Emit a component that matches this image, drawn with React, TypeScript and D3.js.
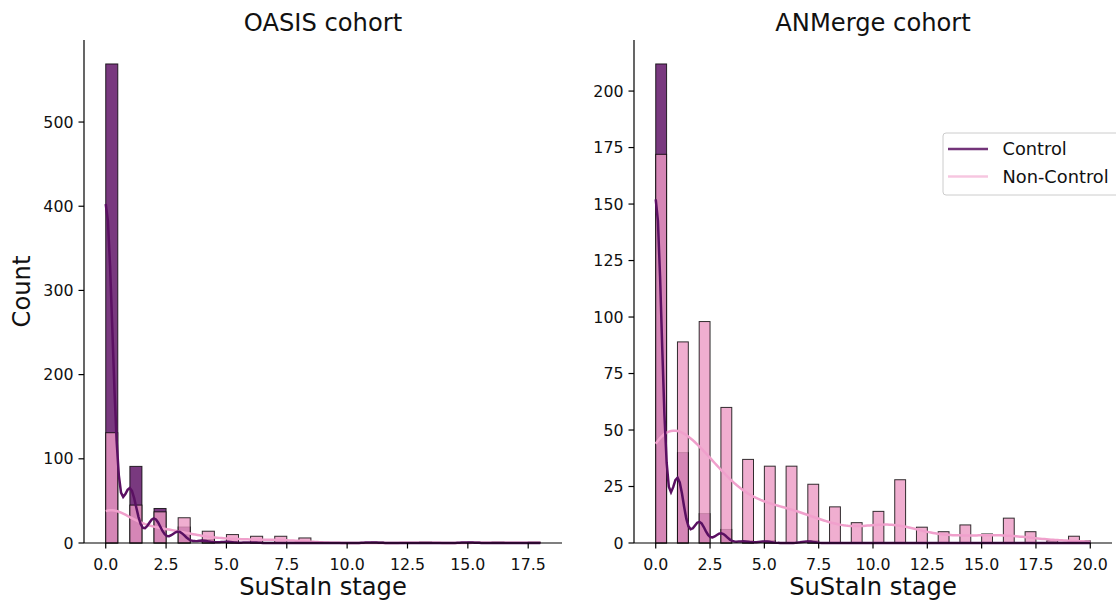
import React from 'react';
import * as d3 from 'd3';

// ---- Data (counts per SuStaIn stage, index = stage) ----
const oasisStages = d3.range(0, 19);
const oasisControl = [569, 91, 41, 19, 4, 2, 1, 0, 0, 0, 0, 1, 0, 0, 0, 1, 0, 0, 0];
const oasisNonControl = [131, 45, 37, 30, 14, 10, 8, 8, 6, 0, 0, 0, 0, 1, 0, 0, 1, 0, 1];

const anmergeStages = d3.range(0, 21);
const anmergeControl = [212, 40, 13, 6, 1, 1, 0, 1, 0, 0, 0, 0, 0, 0, 0, 0, 0, 0, 0, 0, 0];
const anmergeNonControl = [172, 89, 98, 60, 37, 34, 34, 26, 16, 9, 14, 28, 7, 5, 8, 4, 11, 5, 1, 3, 1];

const oasisYTicks = [0, 100, 200, 300, 400, 500];
const anmergeYTicks = [0, 25, 50, 75, 100, 125, 150, 175, 200];
const oasisXTicks = [0, 2.5, 5, 7.5, 10, 12.5, 15, 17.5];
const anmergeXTicks = [0, 2.5, 5, 7.5, 10, 12.5, 15, 17.5, 20];

const seriesNames = ['Control', 'Non-Control'];
const titles = ['OASIS cohort', 'ANMerge cohort'];

const CONTROL_FILL = '#58085f';
const NONCONTROL_FILL = '#ec9ac4';
const CONTROL_LINE = '#5a1062';
const NONCONTROL_LINE = '#f0a0cc';
const FONT = 'DejaVu Sans, sans-serif';
const BIN_W = 0.5;

function kde(stages: number[], counts: number[], lo: number, hi: number) {
  const n = d3.sum(counts);
  const mean = d3.sum(stages, (s, i) => s * counts[i]) / n;
  const ss = d3.sum(stages, (s, i) => counts[i] * (s - mean) ** 2);
  const std = Math.sqrt(ss / (n - 1));
  const bw = std * Math.pow(n, -0.2);
  const grid = d3.range(200).map((i) => lo + ((hi - lo) * i) / 199);
  return grid.map((x) => {
    let y = 0;
    stages.forEach((s, i) => {
      if (counts[i]) {
        const z = (x - s) / bw;
        y += counts[i] * Math.exp(-0.5 * z * z) / (bw * Math.sqrt(2 * Math.PI));
      }
    });
    return [x, y * BIN_W] as [number, number];
  });
}

type PanelProps = {
  left: number;
  stages: number[];
  control: number[];
  nonControl: number[];
  yTicks: number[];
  xTicks: number[];
  title: string;
  showYLabel: boolean;
  showLegend: boolean;
};

function Panel({ left, stages, control, nonControl, yTicks, xTicks, title, showYLabel, showLegend }: PanelProps) {
  const top = 40;
  const bottom = 543;
  const width = 478;
  const right = left + width;
  const lo = d3.min(stages)!;
  const hi = d3.max(stages)!;
  const span = hi - lo;
  const x = d3.scaleLinear().domain([lo - 0.05 * span, hi + 0.05 * span]).range([left, right]);
  const yMax = Math.max(d3.max(control)!, d3.max(nonControl)!) * 1.05;
  const y = d3.scaleLinear().domain([0, yMax]).range([bottom, top]);
  const binStart = (s: number) => (s === hi ? s - BIN_W : s);

  const line = d3.line<[number, number]>().x((d) => x(d[0])).y((d) => y(d[1])).curve(d3.curveLinear);
  const kdeC = kde(stages, control, lo, hi);
  const kdeN = kde(stages, nonControl, lo, hi);

  const bars = (counts: number[], fill: string, key: string) =>
    stages.map((s, i) =>
      counts[i] > 0 ? (
        <rect
          key={key + s}
          x={x(binStart(s))}
          y={y(counts[i])}
          width={x(binStart(s) + BIN_W) - x(binStart(s))}
          height={y(0) - y(counts[i])}
          fill={fill}
          fillOpacity={0.8}
          stroke="#000"
          strokeOpacity={0.8}
          strokeWidth={1}
        />
      ) : null
    );

  const fmtX = d3.format('.1f');

  return (
    <g>
      {bars(control, CONTROL_FILL, 'c')}
      {bars(nonControl, NONCONTROL_FILL, 'n')}
      <path d={line(kdeN)!} fill="none" stroke={NONCONTROL_LINE} strokeWidth={2.5} />
      <path d={line(kdeC)!} fill="none" stroke={CONTROL_LINE} strokeWidth={2.5} />
      {/* spines */}
      <line x1={left} x2={left} y1={top} y2={bottom} stroke="#000" strokeWidth={1.2} />
      <line x1={left} x2={right} y1={bottom} y2={bottom} stroke="#000" strokeWidth={1.2} />
      {yTicks.map((t) => (
        <g key={'y' + t}>
          <line x1={left - 5.5} x2={left} y1={y(t)} y2={y(t)} stroke="#000" strokeWidth={1.2} />
          <text x={left - 10.5} y={y(t)} dy="0.36em" textAnchor="end" fontSize={15.8} fontFamily={FONT} fill="#111">
            {t}
          </text>
        </g>
      ))}
      {xTicks.map((t) => (
        <g key={'x' + t}>
          <line x1={x(t)} x2={x(t)} y1={bottom} y2={bottom + 5.5} stroke="#000" strokeWidth={1.2} />
          <text x={x(t)} y={569.5} textAnchor="middle" fontSize={15.8} fontFamily={FONT} fill="#111">
            {fmtX(t)}
          </text>
        </g>
      ))}
      <text x={(left + right) / 2} y={31} textAnchor="middle" fontSize={24.2} fontFamily={FONT} fill="#111">
        {title}
      </text>
      <text x={(left + right) / 2} y={595} textAnchor="middle" fontSize={24.2} fontFamily={FONT} fill="#111">
        SuStaIn stage
      </text>
      {showYLabel && (
        <text
          transform={`translate(30,${(top + bottom) / 2}) rotate(-90)`}
          textAnchor="middle"
          fontSize={24.2}
          fontFamily={FONT}
          fill="#111"
        >
          Count
        </text>
      )}
      {showLegend && (
        <g>
          <rect x={943} y={133} width={190} height={62} rx={3} fill="#fff" fillOpacity={0.8} stroke="#cccccc" strokeWidth={1} />
          <line x1={948} x2={988} y1={149} y2={149} stroke={CONTROL_LINE} strokeOpacity={0.85} strokeWidth={2.5} />
          <text x={1002.5} y={149} dy="0.36em" fontSize={17.8} fontFamily={FONT} fill="#111">
            {seriesNames[0]}
          </text>
          <line x1={948} x2={988} y1={176.5} y2={176.5} stroke={NONCONTROL_LINE} strokeOpacity={0.6} strokeWidth={2.5} />
          <text x={1002.5} y={176.5} dy="0.36em" fontSize={17.8} fontFamily={FONT} fill="#111">
            {seriesNames[1]}
          </text>
        </g>
      )}
    </g>
  );
}

export default function App() {
  return (
    <svg
      width={1116}
      height={604}
      style={{ position: 'absolute', left: 0, top: 0, background: '#fff' }}
    >
      <rect x={0} y={0} width={1116} height={604} fill="#fff" />
      <Panel
        left={84}
        stages={oasisStages}
        control={oasisControl}
        nonControl={oasisNonControl}
        yTicks={oasisYTicks}
        xTicks={oasisXTicks}
        title={titles[0]}
        showYLabel={true}
        showLegend={false}
      />
      <Panel
        left={634}
        stages={anmergeStages}
        control={anmergeControl}
        nonControl={anmergeNonControl}
        yTicks={anmergeYTicks}
        xTicks={anmergeXTicks}
        title={titles[1]}
        showYLabel={false}
        showLegend={true}
      />
    </svg>
  );
}
